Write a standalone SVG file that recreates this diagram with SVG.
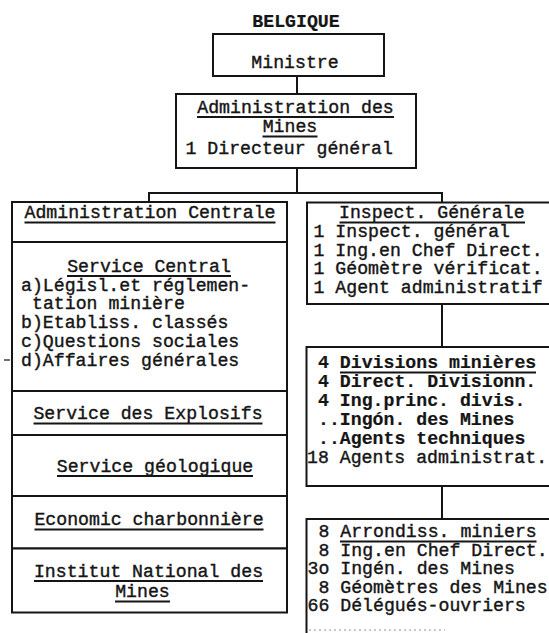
<svg xmlns="http://www.w3.org/2000/svg" width="549" height="633" viewBox="0 0 549 633">
  <style>
    .box { fill: #ffffff; stroke: #151515; stroke-width: 2; }
    .wire { fill: none; stroke: #151515; stroke-width: 2; }
    .ul { stroke: #151515; stroke-width: 2; }
    .t { font-family: "Liberation Mono", "DejaVu Sans Mono", monospace; font-size: 18.2px; fill: #151515; stroke: #151515; stroke-width: 0.4; }
    .m { text-anchor: middle; }
    .b { font-weight: bold; stroke-width: 0.2; }
    .speck { stroke: #b8b8b8; stroke-width: 1.5; stroke-dasharray: 2 3; }
  </style>
  <rect x="0" y="0" width="549" height="633" fill="#ffffff"/>

  <!-- connectors -->
  <g id="connectors">
    <path class="wire" d="M297 76 V94"/>
    <path class="wire" d="M297 168 V193"/>
    <path class="wire" d="M149 202 V193 H442 V203"/>
    <path class="wire" d="M442 304 V347"/>
    <path class="wire" d="M442 486 V519"/>
  </g>

  <g id="belgique">
    <text class="t m b" x="296" y="27">BELGIQUE</text>
  </g>

  <g id="ministre">
    <rect class="box" x="213" y="34" width="171" height="42"/>
    <text class="t m" x="295" y="68">Ministre</text>
  </g>

  <g id="administration-des-mines">
    <rect class="box" x="176" y="94" width="240" height="74"/>
    <text class="t m" x="295.5" y="112.5">Administration des</text>
    <line class="ul" x1="197" y1="117" x2="394" y2="117"/>
    <text class="t m" x="290" y="132">Mines</text>
    <line class="ul" x1="262.5" y1="136.5" x2="317.5" y2="136.5"/>
    <text class="t" x="185.5" y="154">1  Directeur général</text>
  </g>

  <!-- left column -->
  <g id="administration-centrale">
    <rect class="box" x="12" y="202" width="275" height="40"/>
    <text class="t m" x="150" y="218">Administration Centrale</text>
    <line class="ul" x1="24.5" y1="222.5" x2="275.5" y2="222.5"/>
  </g>

  <g id="service-central">
    <rect class="box" x="12" y="242" width="275" height="149"/>
    <text class="t m" x="149" y="271.5">Service Central</text>
    <line class="ul" x1="67" y1="276" x2="231" y2="276"/>
    <text class="t" x="21" y="290.5">a)Législ.et réglemen-</text>
    <text class="t" x="32" y="309">tation minière</text>
    <text class="t" x="21" y="328">b)Etabliss. classés</text>
    <text class="t" x="21" y="346.5">c)Questions sociales</text>
    <text class="t" x="21" y="365.5">d)Affaires générales</text>
    <line class="ul" x1="4" y1="360" x2="10" y2="360" style="stroke-width:1.2"/>
  </g>

  <g id="service-explosifs">
    <rect class="box" x="12" y="391" width="275" height="44"/>
    <text class="t m" x="148" y="419">Service des Explosifs</text>
    <line class="ul" x1="33.5" y1="423.5" x2="262.5" y2="423.5"/>
  </g>

  <g id="service-geologique">
    <rect class="box" x="12" y="435" width="275" height="61"/>
    <text class="t m" x="155" y="471.5">Service géologique</text>
    <line class="ul" x1="57" y1="476" x2="253" y2="476"/>
  </g>

  <g id="economie-charbonniere">
    <rect class="box" x="12" y="496" width="275" height="52.5"/>
    <text class="t m" x="149" y="525">Economic charbonnière</text>
    <line class="ul" x1="34.5" y1="529.5" x2="263.5" y2="529.5"/>
  </g>

  <g id="institut-national">
    <rect class="box" x="12" y="548.5" width="275" height="64"/>
    <text class="t m" x="148.5" y="576.5">Institut National des</text>
    <line class="ul" x1="34" y1="581" x2="263" y2="581"/>
    <text class="t m" x="142.5" y="597">Mines</text>
    <line class="ul" x1="115" y1="601.5" x2="170" y2="601.5"/>
  </g>

  <!-- right column -->
  <g id="inspection-generale">
    <rect class="box" x="307" y="202.5" width="270" height="101.5"/>
    <text class="t" x="339" y="218">Inspect. Générale</text>
    <line class="ul" x1="339.5" y1="222.5" x2="525" y2="222.5"/>
    <text class="t" x="313.5" y="237">1 Inspect. général</text>
    <text class="t" x="313.5" y="255.5">1 Ing.en Chef Direct.</text>
    <text class="t" x="313.5" y="274">1 Géomètre vérificat.</text>
    <text class="t" x="313.5" y="292.5">1 Agent administratif</text>
  </g>

  <g id="divisions-minieres">
    <rect class="box" x="306.5" y="347" width="270" height="139"/>
    <text class="t b" x="318" y="368">4 Divisions minières</text>
    <line class="ul" x1="340" y1="372.5" x2="536" y2="372.5"/>
    <text class="t b" x="318" y="387">4 Direct. Divisionn.</text>
    <text class="t b" x="318" y="406">4 Ing.princ. divis.</text>
    <text class="t b" x="318" y="425">..Ingón. des Mines</text>
    <text class="t b" x="318" y="444">..Agents techniques</text>
    <text class="t" x="307" y="463">18 Agents administrat.</text>
  </g>

  <g id="arrondissements-miniers">
    <rect class="box" x="306.5" y="519" width="270" height="140"/>
    <text class="t" x="318.5" y="537">8 Arrondiss. miniers</text>
    <line class="ul" x1="340" y1="541.5" x2="536.5" y2="541.5"/>
    <text class="t" x="318.5" y="555.5">8 Ing.en Chef Direct.</text>
    <text class="t" x="307.5" y="574">3o Ingén. des Mines</text>
    <text class="t" x="318.5" y="592.5">8 Géomètres des Mines</text>
    <text class="t" x="307.5" y="611">66 Délégués-ouvriers</text>
    <line class="speck" x1="309" y1="630" x2="445" y2="630"/>
  </g>
</svg>
